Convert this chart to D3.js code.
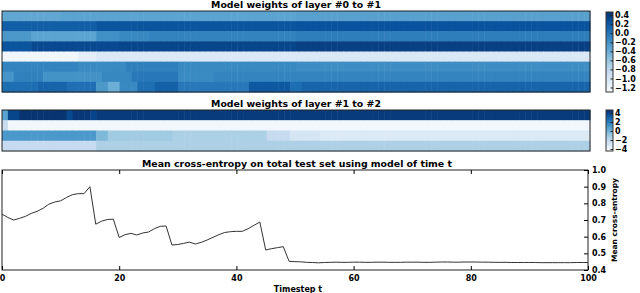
<!DOCTYPE html>
<html>
<head>
<meta charset="utf-8">
<script src="https://cdn.jsdelivr.net/npm/d3@7"></script>
<style>
  body { margin: 0; background: #fff; }
  text { font-family: "DejaVu Sans", sans-serif; font-weight: bold; fill: #000; }
</style>
</head>
<body>
<div id="chart"></div>
<script>
// ---- data ----
var nCols = 100;

// layer #0 -> #1 weights, each row as runs of [columns, value]
var layer1Rows = [
  [[10, -0.36], [40, -0.33], [50, -0.31]],
  [[16, 0.15], [34, 0.22], [50, 0.24]],
  [[5, -0.24], [11, -0.33], [4, -0.19], [5, -0.13], [25, -0.09], [50, -0.06]],
  [[5, 0.22], [15, 0.30], [30, 0.32], [50, 0.36]],
  [[13, -1.25], [3, -1.12], [34, -1.05], [50, -1.04]],
  [[13, -0.10], [8, -0.15], [9, -0.07], [20, -0.14], [50, -0.17]],
  [[2, -0.22], [5, -0.08], [10, -0.20], [5, -0.12], [8, -0.02], [6, -0.15], [14, -0.10], [50, -0.10]],
  [[6, 0.05], [5, 0.12], [5, 0.04], [2, -0.24], [2, -0.42], [3, -0.13], [3, 0.05], [4, 0.14], [12, -0.02], [7, 0.20], [2, 0.05], [49, 0.12]]
];
var layer1Domain = [-1.30, 0.47];
var layer1Ticks = [0.4, 0.2, 0.0, -0.2, -0.4, -0.6, -0.8, -1.0, -1.2];

// layer #1 -> #2 weights
var layer2Rows = [
  [[1, 0.6], [2, 3.9], [8, 4.5], [1, 3.8], [3, 4.4], [1, 3.9], [84, 4.3]],
  [[1, -2.2], [99, -4.15]],
  [[16, 1.0], [2, -0.34], [11, -1.07], [16, -1.43], [4, -2.16], [5, -2.9], [46, -3.2]],
  [[16, -2.16], [84, -1.45]]
];
var layer2Domain = [-4.44, 4.67];
var layer2Ticks = [4, 2, 0, -2, -4];

// mean cross-entropy per timestep
var timesteps = d3.range(0, 101);
var crossEntropy = [
  0.735, 0.715, 0.700, 0.710, 0.722, 0.740, 0.752, 0.770, 0.795, 0.808,
  0.815, 0.835, 0.852, 0.858, 0.858, 0.900, 0.675, 0.693, 0.703, 0.705,
  0.595, 0.612, 0.620, 0.610, 0.622, 0.628, 0.648, 0.662, 0.664, 0.550,
  0.553, 0.560, 0.567, 0.556, 0.566, 0.580, 0.596, 0.612, 0.625, 0.630,
  0.632, 0.632, 0.648, 0.668, 0.688, 0.520, 0.528, 0.534, 0.540, 0.452,
  0.450, 0.449, 0.446, 0.445, 0.443, 0.445, 0.446, 0.447, 0.446, 0.446,
  0.447, 0.447, 0.446, 0.446, 0.447, 0.447, 0.446, 0.446, 0.446, 0.447,
  0.447, 0.447, 0.446, 0.446, 0.447, 0.448, 0.448, 0.447, 0.447, 0.448,
  0.448, 0.448, 0.447, 0.447, 0.446, 0.446, 0.446, 0.445, 0.445, 0.445,
  0.445, 0.445, 0.444, 0.444, 0.444, 0.444, 0.444, 0.444, 0.445, 0.445,
  0.445
];
var xTicks = [0, 20, 40, 60, 80, 100];
var yTicks = [0.4, 0.5, 0.6, 0.7, 0.8, 0.9, 1.0];

// matplotlib "Blues"
var blues = ["#f7fbff", "#deebf7", "#c6dbef", "#9ecae1", "#6baed6", "#4292c6", "#2171b5", "#08519c", "#08306b"];

var W = 640, H = 293;
var svg = d3.select("#chart").append("svg")
  .attr("width", W).attr("height", H);

function expand(runs) {
  var out = [];
  runs.forEach(r => { for (var i = 0; i < r[0]; i++) out.push(r[1]); });
  return out.slice(0, nCols);
}

function colorFor(domain) {
  var stops = blues.map((c, i) => domain[0] + (domain[1] - domain[0]) * i / (blues.length - 1));
  return d3.scaleLinear().domain(stops).range(blues).clamp(true);
}

function heatmap(rows, domain, ticks, box, cbBox, title, id, fmt) {
  var color = colorFor(domain);
  var x = d3.scaleBand().domain(d3.range(nCols)).range([box.x0, box.x1]);
  var y = d3.scaleBand().domain(d3.range(rows.length)).range([box.y0, box.y1]);
  var g = svg.append("g");
  rows.forEach((runs, r) => {
    g.selectAll(null).data(expand(runs)).enter().append("rect")
      .attr("x", (d, i) => x(i))
      .attr("y", y(r))
      .attr("width", x.bandwidth() + 0.5)
      .attr("height", y.bandwidth() + 0.5)
      .attr("fill", d => color(d));
  });
  g.append("rect")
    .attr("x", box.x0).attr("y", box.y0)
    .attr("width", box.x1 - box.x0).attr("height", box.y1 - box.y0)
    .attr("fill", "none").attr("stroke", "#222").attr("stroke-width", 1);
  svg.append("text")
    .attr("x", (box.x0 + box.x1) / 2).attr("y", box.y0 - 3.5)
    .attr("text-anchor", "middle").style("font-size", "9.4px")
    .text(title);

  // colour bar
  var grad = svg.append("defs").append("linearGradient")
    .attr("id", id).attr("x1", 0).attr("y1", 1).attr("x2", 0).attr("y2", 0);
  d3.range(0, 1.0001, 0.05).forEach(t => {
    grad.append("stop").attr("offset", t)
      .attr("stop-color", color(domain[0] + t * (domain[1] - domain[0])));
  });
  var cy = d3.scaleLinear().domain(domain).range([cbBox.y1, cbBox.y0]);
  svg.append("rect")
    .attr("x", cbBox.x0).attr("y", cbBox.y0)
    .attr("width", cbBox.x1 - cbBox.x0).attr("height", cbBox.y1 - cbBox.y0)
    .attr("fill", "url(#" + id + ")").attr("stroke", "#333").attr("stroke-width", 1);
  var ax = svg.append("g")
    .attr("transform", "translate(" + cbBox.x1 + ",0)")
    .call(d3.axisRight(cy).tickValues(ticks).tickSize(-2.5).tickPadding(2).tickFormat(fmt));
  ax.select(".domain").remove();
  ax.selectAll("line").attr("stroke", "#222");
  ax.selectAll("text").style("font-size", "8px").attr("font-family", null);
}

heatmap(layer1Rows, layer1Domain, layer1Ticks,
  {x0: 2, x1: 590, y0: 11, y1: 92}, {x0: 606, x1: 613, y0: 12, y1: 92},
  "Model weights of layer #0 to #1", "cb1", d3.format(".1f"));
heatmap(layer2Rows, layer2Domain, layer2Ticks,
  {x0: 2, x1: 590, y0: 110, y1: 151}, {x0: 606, x1: 613, y0: 110, y1: 151},
  "Model weights of layer #1 to #2", "cb2", d3.format("d"));

// ---- line chart ----
var px = {x0: 2, x1: 588, y0: 170, y1: 270};
var x = d3.scaleLinear().domain([0, 100]).range([px.x0, px.x1]);
var y = d3.scaleLinear().domain([0.4, 1.0]).range([px.y1, px.y0]);

svg.append("path")
  .datum(crossEntropy)
  .attr("d", d3.line().x((d, i) => x(timesteps[i])).y(d => y(d)))
  .attr("fill", "none").attr("stroke", "#333").attr("stroke-width", 1);

svg.append("rect")
  .attr("x", px.x0).attr("y", px.y0)
  .attr("width", px.x1 - px.x0).attr("height", px.y1 - px.y0)
  .attr("fill", "none").attr("stroke", "#222").attr("stroke-width", 1);

var xb = svg.append("g").attr("transform", "translate(0," + px.y1 + ")")
  .call(d3.axisBottom(x).tickValues(xTicks).tickSize(-4).tickPadding(5));
xb.select(".domain").remove();
xb.selectAll("text").style("font-size", "8px").attr("font-family", null);
var xt = svg.append("g").attr("transform", "translate(0," + px.y0 + ")")
  .call(d3.axisTop(x).tickValues(xTicks).tickSize(-4).tickFormat(""));
xt.select(".domain").remove();

var yr = svg.append("g").attr("transform", "translate(" + px.x1 + ",0)")
  .call(d3.axisRight(y).tickValues(yTicks).tickSize(-4).tickPadding(4).tickFormat(d3.format(".1f")));
yr.select(".domain").remove();
yr.selectAll("text").style("font-size", "8px").attr("font-family", null);

svg.append("text")
  .attr("x", 297).attr("y", 166.5)
  .attr("text-anchor", "middle").style("font-size", "9.4px")
  .text("Mean cross-entropy on total test set using model of time t");

svg.append("text")
  .attr("x", 298).attr("y", 291.5)
  .attr("text-anchor", "middle").style("font-size", "8px")
  .text("Timestep t");

svg.append("text")
  .attr("transform", "translate(617,220) rotate(-90)")
  .attr("text-anchor", "middle").style("font-size", "7.5px")
  .text("Mean cross-entropy");
</script>
</body>
</html>
